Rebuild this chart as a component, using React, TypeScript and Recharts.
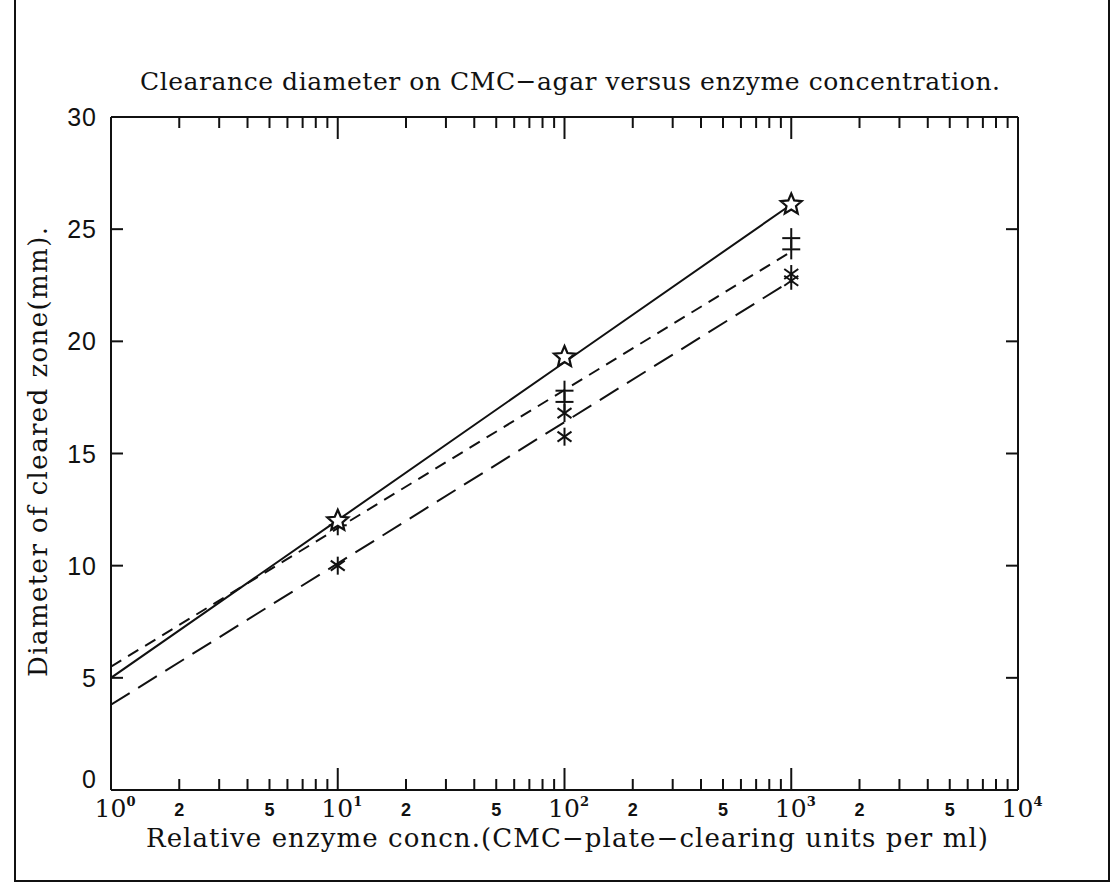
import React from 'react';
import { ComposedChart, Line, Scatter, XAxis, YAxis } from 'recharts';

// Fitted regression lines, evaluated at each decade (straight on a log axis)
const fitX = [1, 10, 100, 1000];
const fitSolid = [5.0, 12.03, 19.07, 26.1];
const fitShortDash = [5.5, 11.67, 17.83, 24.0];
const fitLongDash = [3.8, 10.1, 16.4, 22.7];

// Measured clearance diameters (mm) at each enzyme concentration
const starX = [10, 100, 1000];
const starY = [12.0, 19.3, 26.1];
const plusX = [10, 100, 100, 1000, 1000];
const plusY = [11.8, 17.8, 17.3, 24.6, 24.1];
const asteriskX = [10, 100, 100, 1000, 1000];
const asteriskY = [10.0, 16.8, 15.75, 23.0, 22.7];

// Axis ticks
const xTicks = [
  1, 2, 3, 4, 5, 6, 7, 8, 9,
  10, 20, 30, 40, 50, 60, 70, 80, 90,
  100, 200, 300, 400, 500, 600, 700, 800, 900,
  1000, 2000, 3000, 4000, 5000, 6000, 7000, 8000, 9000,
  10000,
];
const xLabelledMantissas = [2, 5];
const yTicks = [0, 5, 10, 15, 20, 25, 30];

const zip = (xs: number[], ys: number[]) => xs.map((x, i) => ({ x, y: ys[i] }));

const SERIF = '"DejaVu Serif", "Liberation Serif", serif';
const SANS = '"Liberation Sans", Arial, sans-serif';
const INK = '#111';

const decadeOf = (v: number) => {
  const e = Math.floor(Math.log10(v) + 1e-9);
  return { e, m: Math.round(v / Math.pow(10, e)) };
};

const BottomTick = (props: any) => {
  const { x, y, payload } = props;
  const { e, m } = decadeOf(payload.value);
  const major = m === 1;
  return (
    <g>
      <line x1={x} x2={x} y1={y} y2={y - (major ? 22 : 11)} stroke={INK} strokeWidth={2} />
      {major && (
        <text x={x + 4} y={y + 27} textAnchor="middle" fontFamily={SERIF} fontSize={25} fill={INK}>
          10
          <tspan dy={-11} fontSize={13} fontWeight="bold">{e}</tspan>
        </text>
      )}
      {!major && xLabelledMantissas.includes(m) && (
        <text x={x} y={y + 26} textAnchor="middle" fontFamily={SANS} fontSize={18} fontWeight="bold" fill={INK}>
          {m}
        </text>
      )}
    </g>
  );
};

const TopTick = (props: any) => {
  const { x, y, payload } = props;
  const { m } = decadeOf(payload.value);
  return <line x1={x} x2={x} y1={y} y2={y + (m === 1 ? 22 : 11)} stroke={INK} strokeWidth={2} />;
};

const LeftTick = (props: any) => {
  const { x, y, payload } = props;
  const v = payload.value;
  const edge = v === 0 || v === 30;
  return (
    <g>
      {!edge && <line x1={x} x2={x + 12} y1={y} y2={y} stroke={INK} strokeWidth={2} />}
      <text
        x={x - 14}
        y={v === 0 ? y - 2 : y + 9}
        textAnchor="end"
        fontFamily={SANS}
        fontSize={25}
        letterSpacing={1}
        fill={INK}
      >
        {v}
      </text>
    </g>
  );
};

const RightTick = (props: any) => {
  const { x, y, payload } = props;
  const v = payload.value;
  if (v === 0 || v === 30) return <g />;
  return <line x1={x} x2={x - 12} y1={y} y2={y} stroke={INK} strokeWidth={2} />;
};

const StarMark = (props: any) => {
  const { cx, cy } = props;
  const pts: string[] = [];
  for (let i = 0; i < 10; i++) {
    const r = i % 2 === 0 ? 11 : 5;
    const a = -Math.PI / 2 + (i * Math.PI) / 5;
    pts.push(`${cx + r * Math.cos(a)},${cy + r * Math.sin(a)}`);
  }
  return <polygon points={pts.join(' ')} fill="#fff" stroke={INK} strokeWidth={2.2} strokeLinejoin="miter" />;
};

const PlusMark = (props: any) => {
  const { cx, cy } = props;
  return (
    <g stroke={INK} strokeWidth={2}>
      <line x1={cx - 9} x2={cx + 9} y1={cy} y2={cy} />
      <line x1={cx} x2={cx} y1={cy - 10} y2={cy + 10} />
    </g>
  );
};

const AsteriskMark = (props: any) => {
  const { cx, cy } = props;
  return (
    <g stroke={INK} strokeWidth={2}>
      <line x1={cx} x2={cx} y1={cy - 9} y2={cy + 9} />
      <line x1={cx - 7} x2={cx + 7} y1={cy - 5} y2={cy + 5} />
      <line x1={cx - 7} x2={cx + 7} y1={cy + 5} y2={cy - 5} />
    </g>
  );
};

// shared props for the four frame axes; a 1px axis band keeps them rendered
const frameAxis = {
  interval: 0 as const,
  tickSize: 0,
  tickMargin: 0,
  tickLine: false,
  axisLine: { stroke: INK, strokeWidth: 2 },
  allowDataOverflow: true,
};

export default function App() {
  return (
    <div style={{ position: 'absolute', left: 0, top: 0, width: 1112, height: 887, background: '#fff' }}>
      {/* page frame */}
      <div
        style={{
          position: 'absolute',
          left: 14,
          top: -4,
          width: 1092,
          height: 884,
          borderLeft: `2px solid ${INK}`,
          borderRight: `2px solid ${INK}`,
          borderBottom: `2px solid ${INK}`,
        }}
      />
      <div style={{ position: 'absolute', left: 0, top: 0 }}>
        <ComposedChart width={1112} height={887} margin={{ top: 116, right: 93, bottom: 96, left: 110 }}>
          <XAxis
            {...frameAxis}
            xAxisId={0}
            type="number"
            dataKey="x"
            scale="log"
            domain={[1, 10000]}
            ticks={xTicks}
            height={1}
            tick={<BottomTick />}
          />
          <XAxis
            {...frameAxis}
            xAxisId="top"
            orientation="top"
            type="number"
            dataKey="x"
            scale="log"
            domain={[1, 10000]}
            ticks={xTicks}
            height={1}
            tick={<TopTick />}
          />
          <YAxis
            {...frameAxis}
            yAxisId={0}
            type="number"
            dataKey="y"
            domain={[0, 30]}
            ticks={yTicks}
            width={1}
            tick={<LeftTick />}
          />
          <YAxis
            {...frameAxis}
            yAxisId="right"
            orientation="right"
            type="number"
            domain={[0, 30]}
            ticks={yTicks}
            width={1}
            tick={<RightTick />}
          />

          <Line
            data={zip(fitX, fitSolid)}
            dataKey="y"
            type="linear"
            stroke={INK}
            strokeWidth={2}
            dot={false}
            activeDot={false}
            isAnimationActive={false}
          />
          <Line
            data={zip(fitX, fitShortDash)}
            dataKey="y"
            type="linear"
            stroke={INK}
            strokeWidth={2}
            strokeDasharray="12 8"
            dot={false}
            activeDot={false}
            isAnimationActive={false}
          />
          <Line
            data={zip(fitX, fitLongDash)}
            dataKey="y"
            type="linear"
            stroke={INK}
            strokeWidth={2}
            strokeDasharray="22 10"
            dot={false}
            activeDot={false}
            isAnimationActive={false}
          />

          <Scatter data={zip(plusX, plusY)} dataKey="y" shape={<PlusMark />} isAnimationActive={false} />
          <Scatter data={zip(asteriskX, asteriskY)} dataKey="y" shape={<AsteriskMark />} isAnimationActive={false} />
          <Scatter data={zip(starX, starY)} dataKey="y" shape={<StarMark />} isAnimationActive={false} />
        </ComposedChart>
      </div>

      {/* title and axis titles */}
      <svg width={1112} height={887} style={{ position: 'absolute', left: 0, top: 0, pointerEvents: 'none' }}>
        <text
          x={570}
          y={90}
          textAnchor="middle"
          fontFamily={SERIF}
          fontSize={25}
          textLength={860}
          lengthAdjust="spacing"
          fill={INK}
        >
          Clearance diameter on CMC−agar versus enzyme concentration.
        </text>
        <text
          x={567}
          y={847}
          textAnchor="middle"
          fontFamily={SERIF}
          fontSize={26}
          textLength={842}
          lengthAdjust="spacing"
          fill={INK}
        >
          Relative enzyme concn.(CMC−plate−clearing units per ml)
        </text>
        <text
          x={0}
          y={0}
          transform="translate(47 452) rotate(-90)"
          textAnchor="middle"
          fontFamily={SERIF}
          fontSize={26}
          textLength={450}
          lengthAdjust="spacing"
          fill={INK}
        >
          Diameter of cleared zone(mm).
        </text>
      </svg>
    </div>
  );
}
